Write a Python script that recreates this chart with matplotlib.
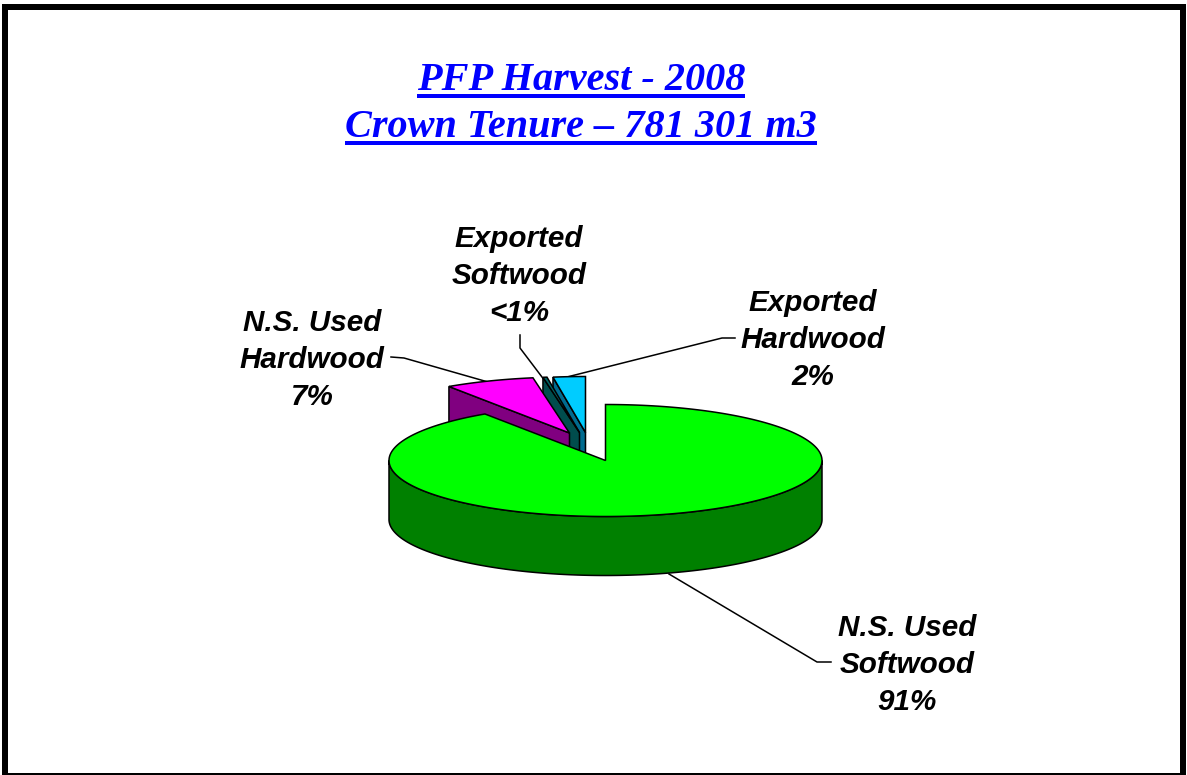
import numpy as np
import matplotlib
matplotlib.use("Agg")
import matplotlib.pyplot as plt
from matplotlib.patches import Polygon, Rectangle
from matplotlib.lines import Line2D

# ---- data ----
title_lines = ["PFP Harvest - 2008", "Crown Tenure \u2013 781 301 m3"]
categories = ["N.S. Used\nSoftwood\n91%", "N.S. Used\nHardwood\n7%",
              "Exported\nSoftwood\n<1%", "Exported\nHardwood\n2%"]
values = [90.6, 6.7, 0.3, 2.4]

# ---- style / layout ----
top_colors = ["#00FF00", "#FF00FF", "#006666", "#00CCFF"]
side_colors = ["#008000", "#800080", "#004D4D", "#006B8F"]
offsets = [(0, 0), (-36, -27.5), (-26, -28), (-20, -28)]
draw_order = [3, 2, 1, 0]
CX, CY, RX, RY, DEPTH = 605.5, 460.5, 216.5, 56, 59
label_pos = [(907, 665), (312, 360), (519, 276), (813, 340)]
leaders = [[(669, 574), (817, 662), (831, 662)],
           [(391, 357), (404, 358), (488, 382)],
           [(520, 335), (520, 348), (545, 381)],
           [(735, 338), (722, 338), (567, 377)]]

W, H = 1187, 775
fig = plt.figure(figsize=(W / 100, H / 100), dpi=100, facecolor="white")
ax = fig.add_axes([0, 0, 1, 1])
ax.set_xlim(0, W)
ax.set_ylim(H, 0)
ax.axis("off")

ax.add_patch(Rectangle((5, 7), 1177.5, 769, fill=False, ec="black", lw=6 * 0.72,
                       joinstyle="miter", zorder=20, clip_on=False))


def pt(deg, off=(0, 0), dy=0):
    t = np.radians(deg)
    return np.column_stack([CX + off[0] + RX * np.sin(t),
                            CY + off[1] + dy - RY * np.cos(t)])


fractions = np.array(values) / np.sum(values) * 360
ends = np.cumsum(fractions)
starts = ends - fractions

z = 2
for i in draw_order:
    a0, a1, off = starts[i], ends[i], offsets[i]
    centre = np.array([[CX + off[0], CY + off[1]]])
    # visible side faces
    if a1 - a0 > 180:
        arc = pt(np.linspace(90, 270, 241), off)
        face = np.vstack([arc, arc[::-1] + [0, DEPTH]])
    else:
        left = pt(np.array([a0]), off)
        face = np.vstack([left, centre, centre + [0, DEPTH], left + [0, DEPTH]])
    ax.add_patch(Polygon(face, closed=True, fc=side_colors[i], ec="black", lw=1.1, zorder=z,
                         joinstyle="miter"))
    z += 1
    # top face
    top = np.vstack([centre, pt(np.linspace(a0, a1, max(int(a1 - a0) * 2, 6)), off)])
    ax.add_patch(Polygon(top, closed=True, fc=top_colors[i], ec="black", lw=1.1, zorder=z,
                         joinstyle="miter"))
    z += 1

for path in leaders:
    xs, ys = zip(*path)
    ax.add_line(Line2D(xs, ys, color="black", lw=1.1, zorder=1))

for label, (x, y) in zip(categories, label_pos):
    ax.text(x, y, label, ha="center", va="center", family="Liberation Sans",
            weight="bold", style="italic", fontsize=21.3, color="black",
            linespacing=1.405, zorder=15)

baselines = [89.5, 137]
texts = [ax.text(581, b, s, ha="center", va="baseline", family="Liberation Serif",
                 weight="bold", style="italic", fontsize=29, color="#0000FF", zorder=15)
         for s, b in zip(title_lines, baselines)]
fig.canvas.draw()
rend = fig.canvas.get_renderer()
for t, b in zip(texts, baselines):
    bb = t.get_window_extent(rend)
    ax.add_line(Line2D([bb.x0, bb.x1], [round(b) + 5.5, round(b) + 5.5], color="#0000FF", lw=4 * 0.72,
                       solid_capstyle="butt", zorder=15))

fig.savefig("out.png", dpi=100, facecolor="white")
